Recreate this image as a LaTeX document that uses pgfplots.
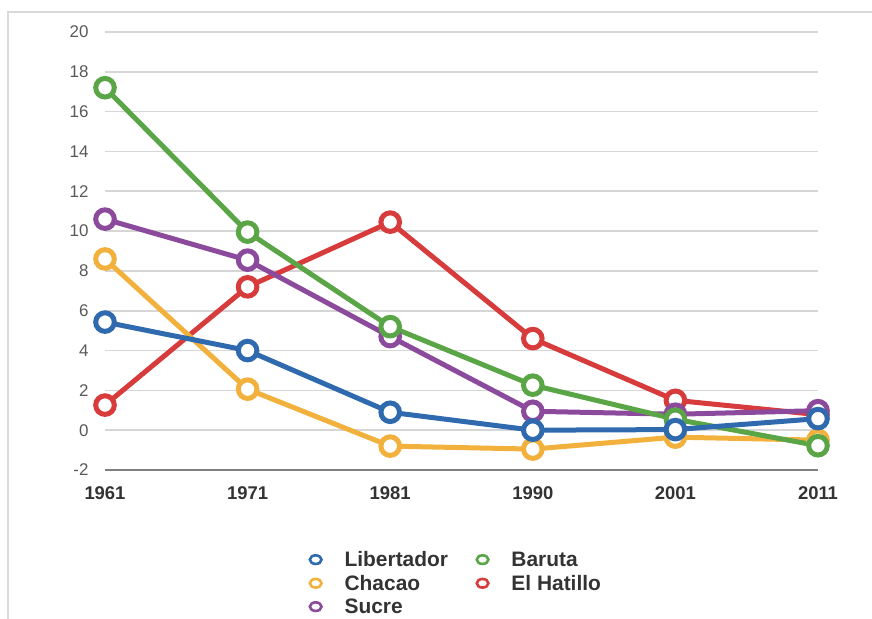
\documentclass[border=0pt]{standalone}
\usepackage{pgfplots}
\pgfplotsset{compat=1.18}
\usepackage{fontspec}
\setmainfont{Liberation Sans}
\definecolor{cBlue}{HTML}{2F6AAE}
\definecolor{cOrange}{HTML}{F2B13D}
\definecolor{cPurple}{HTML}{8C4A9C}
\definecolor{cGreen}{HTML}{5AA646}
\definecolor{cRed}{HTML}{D73B3B}
\begin{document}
\begin{tikzpicture}
\path[use as bounding box] (0,0) rectangle (872bp,619bp);
\draw[color=black!15, line width=2bp] (8bp,0) -- (8bp,607bp) -- (872bp,607bp);
\begin{axis}[
  at={(105bp,149bp)}, anchor=south west,
  scale only axis, width=713bp, height=438bp,
  xmin=0, xmax=5, ymin=-2, ymax=20,
  xtick={0,...,5},
  xticklabels={1961,1971,1981,1990,2001,2011},
  ytick={0,2,...,20},
  extra y ticks={-2},
  extra y tick style={grid style={black!50, line width=2.2bp}},
  ymajorgrids,
  grid style={black!16, line width=1.6bp},
  axis line style={draw=none},
  major tick length=0pt,
  clip=false,
  /pgf/number format/assume math mode=true,
  xticklabel style={font=\fontsize{18.5}{18}\selectfont\bfseries, text=black!80, yshift=-13bp},
  yticklabel style={font=\fontsize{17}{17}\selectfont, text=black!65, xshift=-13bp},
  every axis plot/.append style={line width=5bp},
  legend style={at={(0.491,-0.258)}, anchor=center, draw=none, fill=none,
    font=\fontsize{21}{22}\selectfont\bfseries, text=black!80, row sep=3bp,
    /tikz/every even column/.append style={column sep=24bp}},
  legend columns=2,
  legend cell align=left,
  legend image code/.code={\draw[#1, mark=*, mark size=4.3bp, mark options={line width=2.6bp, xscale=1.35, fill=white}] plot coordinates {(0.3cm,0cm)}; \path[draw=none] (0,0) -- (1.25cm,0);},
]
% drawing order (back to front)
\addplot[cRed, forget plot, mark=*, mark size=9.3bp, mark options={line width=5bp, fill=white}] coordinates {(0,1.26) (1,7.2) (2,10.45) (3,4.6) (4,1.5) (5,0.78)};
\addplot[cPurple, forget plot, mark=*, mark size=9.3bp, mark options={line width=5bp, fill=white}] coordinates {(0,10.6) (1,8.54) (2,4.7) (3,0.95) (4,0.8) (5,0.98)};
\addplot[cOrange, forget plot, mark=*, mark size=9.3bp, mark options={line width=5bp, fill=white}] coordinates {(0,8.6) (1,2.06) (2,-0.8) (3,-0.95) (4,-0.35) (5,-0.5)};
\addplot[cGreen, forget plot, mark=*, mark size=9.3bp, mark options={line width=5bp, fill=white}] coordinates {(0,17.2) (1,9.95) (2,5.2) (3,2.26) (4,0.55) (5,-0.78)};
\addplot[cBlue, forget plot, mark=*, mark size=9.3bp, mark options={line width=5bp, fill=white}] coordinates {(0,5.43) (1,4.0) (2,0.9) (3,0.0) (4,0.03) (5,0.58)};
% legend
\addlegendimage{cBlue}
\addlegendentry{Libertador}
\addlegendimage{cGreen}
\addlegendentry{Baruta}
\addlegendimage{cOrange}
\addlegendentry{Chacao}
\addlegendimage{cRed}
\addlegendentry{El Hatillo}
\addlegendimage{cPurple}
\addlegendentry{Sucre}
\end{axis}
\end{tikzpicture}
\end{document}
